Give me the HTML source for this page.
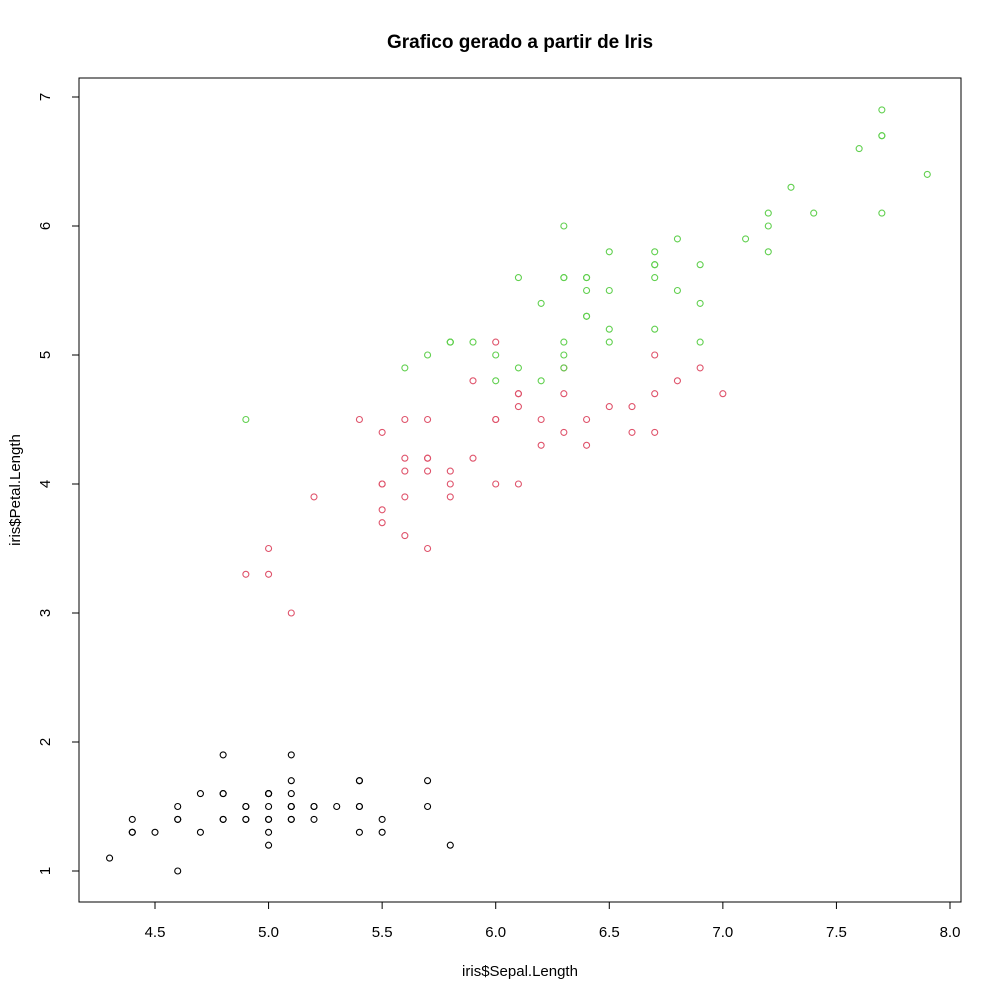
<!DOCTYPE html>
<html><head><meta charset="utf-8"><style>
html,body{margin:0;padding:0;background:#fff;}
svg text{font-family:"Liberation Sans",Arial,sans-serif;}
</style></head><body>
<svg id="chart" width="1000" height="1000" xmlns="http://www.w3.org/2000/svg">
<rect width="1000" height="1000" fill="#fff"/>
<text x="520" y="48" text-anchor="middle" font-size="19" font-weight="bold">Grafico gerado a partir de Iris</text>
<rect x="79" y="78" width="882" height="824" fill="none" stroke="#000" stroke-width="1"/>
<text x="520" y="976" text-anchor="middle" font-size="15">iris$Sepal.Length</text>
<text x="20" y="490" text-anchor="middle" font-size="15" transform="rotate(-90 20 490)">iris$Petal.Length</text>
<g id="axes"></g>
<g id="points"></g>
</svg>
<script>
const xTicks=[4.5,5.0,5.5,6.0,6.5,7.0,7.5,8.0];
const xTickLabels=["4.5","5.0","5.5","6.0","6.5","7.0","7.5","8.0"];
const yTicks=[1,2,3,4,5,6,7];
const yTickLabels=["1","2","3","4","5","6","7"];
const setosaSL=[5.1,4.9,4.7,4.6,5.0,5.4,4.6,5.0,4.4,4.9,5.4,4.8,4.8,4.3,5.8,5.7,5.4,5.1,5.7,5.1,5.4,5.1,4.6,5.1,4.8,5.0,5.0,5.2,5.2,4.7,4.8,5.4,5.2,5.5,4.9,5.0,5.5,4.9,4.4,5.1,5.0,4.5,4.4,5.0,5.1,4.8,5.1,4.6,5.3,5.0];
const setosaPL=[1.4,1.4,1.3,1.5,1.4,1.7,1.4,1.5,1.4,1.5,1.5,1.6,1.4,1.1,1.2,1.5,1.3,1.4,1.7,1.5,1.7,1.5,1.0,1.7,1.9,1.6,1.6,1.5,1.4,1.6,1.6,1.5,1.5,1.4,1.5,1.2,1.3,1.4,1.3,1.5,1.3,1.3,1.3,1.6,1.9,1.4,1.6,1.4,1.5,1.4];
const versicolorSL=[7.0,6.4,6.9,5.5,6.5,5.7,6.3,4.9,6.6,5.2,5.0,5.9,6.0,6.1,5.6,6.7,5.6,5.8,6.2,5.6,5.9,6.1,6.3,6.1,6.4,6.6,6.8,6.7,6.0,5.7,5.5,5.5,5.8,6.0,5.4,6.0,6.7,6.3,5.6,5.5,5.5,6.1,5.8,5.0,5.6,5.7,5.7,6.2,5.1,5.7];
const versicolorPL=[4.7,4.5,4.9,4.0,4.6,4.5,4.7,3.3,4.6,3.9,3.5,4.2,4.0,4.7,3.6,4.4,4.5,4.1,4.5,3.9,4.8,4.0,4.9,4.7,4.3,4.4,4.8,5.0,4.5,3.5,3.8,3.7,3.9,5.1,4.5,4.5,4.7,4.4,4.1,4.0,4.4,4.6,4.0,3.3,4.2,4.2,4.2,4.3,3.0,4.1];
const virginicaSL=[6.3,5.8,7.1,6.3,6.5,7.6,4.9,7.3,6.7,7.2,6.5,6.4,6.8,5.7,5.8,6.4,6.5,7.7,7.7,6.0,6.9,5.6,7.7,6.3,6.7,7.2,6.2,6.1,6.4,7.2,7.4,7.9,6.4,6.3,6.1,7.7,6.3,6.4,6.0,6.9,6.7,6.9,5.8,6.8,6.7,6.7,6.3,6.5,6.2,5.9];
const virginicaPL=[6.0,5.1,5.9,5.6,5.8,6.6,4.5,6.3,5.8,6.1,5.1,5.3,5.5,5.0,5.1,5.3,5.5,6.7,6.9,5.0,5.7,4.9,6.7,4.9,5.7,6.0,4.8,4.9,5.6,5.8,6.1,6.4,5.6,5.1,5.6,6.1,5.6,5.5,4.8,5.4,5.6,5.1,5.1,5.9,5.7,5.2,5.0,5.2,5.4,5.1];

const NS="http://www.w3.org/2000/svg";
function xs(v){return 155+(v-4.5)*(795/3.5);}
function ys(v){return 871-(v-1)*(774/6);}
const axes=document.getElementById('axes');
function mk(tag,attrs,parent){const e=document.createElementNS(NS,tag);for(const k in attrs)e.setAttribute(k,attrs[k]);parent.appendChild(e);return e;}
// x axis
const xl=mk('line',{x1:xs(xTicks[0]),x2:xs(xTicks[xTicks.length-1]),y1:902,y2:902,stroke:'#000'},axes);


xTicks.forEach((t,i)=>{
  const l=mk('line',{x1:xs(t),x2:xs(t),y1:902,y2:909,stroke:'#000'},axes);
  
  
  const tx=mk('text',{x:xs(t),y:937,'text-anchor':'middle','font-size':'15'},axes);
  tx.textContent=xTickLabels[i];
  
  
});
const yl=mk('line',{x1:79,x2:79,y1:ys(yTicks[0]),y2:ys(yTicks[yTicks.length-1]),stroke:'#000'},axes);


yTicks.forEach((t,i)=>{
  const l=mk('line',{x1:72,x2:79,y1:ys(t),y2:ys(t),stroke:'#000'},axes);
  
  
  const tx=mk('text',{x:50,y:ys(t),'text-anchor':'middle','font-size':'15',transform:`rotate(-90 50 ${ys(t)})`},axes);
  tx.textContent=yTickLabels[i];
  
  
});
const pts=document.getElementById('points');
function series(sx,sy,color,name){
  sx.forEach((v,i)=>{
    const c=mk('circle',{cx:xs(v),cy:ys(sy[i]),r:3,fill:'none',stroke:color,'stroke-width':1.1},pts);
    
    
  });
}
series(setosaSL,setosaPL,'#000000','setosa');
series(versicolorSL,versicolorPL,'#DF536B','versicolor');
series(virginicaSL,virginicaPL,'#61D04F','virginica');
</script>
</body></html>
